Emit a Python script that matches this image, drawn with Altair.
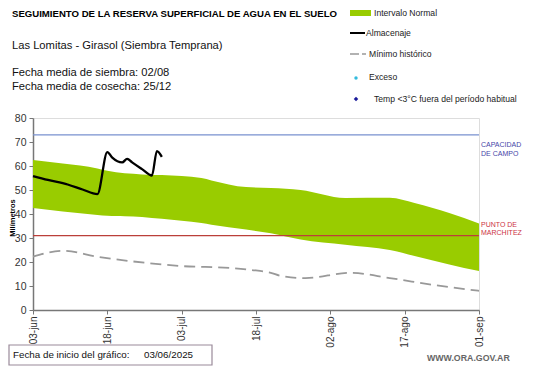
import altair as alt
import pandas as pd

# ---- data ----
band_dates = ["2025-06-03", "2025-06-09", "2025-06-16", "2025-06-18", "2025-06-25", "2025-06-29",
              "2025-07-07", "2025-07-09", "2025-07-16", "2025-07-21", "2025-07-27", "2025-08-05",
              "2025-08-14", "2025-08-19", "2025-08-26", "2025-09-01"]
band_upper = [62.5, 61.0, 59.0, 58.0, 56.5, 56.2, 55.0, 54.0, 51.2, 50.8, 50.0, 46.7, 46.8, 44.6, 40.4, 36.0]
band_lower = [42.5, 41.0, 39.6, 39.3, 38.8, 38.0, 36.2, 35.5, 33.5, 32.0, 29.4, 27.2, 25.0, 22.5, 19.0, 16.2]

alm_dates = ["2025-06-03", "2025-06-06", "2025-06-10", "2025-06-13", "2025-06-16", "2025-06-18",
             "2025-06-19", "2025-06-21", "2025-06-22", "2025-06-23", "2025-06-25", "2025-06-27",
             "2025-06-28", "2025-06-29"]
alm_values = [55.8, 54.2, 52.3, 50.2, 48.3, 65.8, 63.5, 61.5, 63.0, 61.5, 58.7, 56.0, 66.2, 63.8]

min_dates = ["2025-06-03", "2025-06-09", "2025-06-16", "2025-06-26", "2025-07-03", "2025-07-13",
             "2025-07-17", "2025-07-21", "2025-07-23", "2025-07-28", "2025-08-06", "2025-08-14",
             "2025-08-23", "2025-09-01"]
min_values = [22.2, 24.7, 22.2, 19.6, 18.3, 17.5, 16.7, 15.5, 14.2, 13.3, 15.5, 13.3, 10.4, 8.0]

capacidad_campo = 73.0
punto_marchitez = 31.0

tick_dates = ["2025-06-03", "2025-06-18", "2025-07-03", "2025-07-18", "2025-08-02", "2025-08-17", "2025-09-01"]
y_ticks = [0, 10, 20, 30, 40, 50, 60, 70, 80]

FONT = "Liberation Sans"
W, H = 446, 192

band_df = pd.DataFrame({"fecha": band_dates, "sup": band_upper, "inf": band_lower})
alm_df = pd.DataFrame({"fecha": alm_dates, "v": alm_values})
min_df = pd.DataFrame({"fecha": min_dates, "v": min_values})
ref_df = pd.DataFrame({"v": [capacidad_campo, punto_marchitez], "k": ["cc", "pm"]})
one = pd.DataFrame({"a": [0]})

def dt(s):
    y, m, d = s.split("-")
    return alt.DateTime(year=int(y), month=int(m), date=int(d), utc=True)

xscale = alt.Scale(type="utc", domain=[dt("2025-06-03"), dt("2025-09-01")], nice=False)
yscale = alt.Scale(domain=[0, 80], nice=False)

month_expr = "['ene','feb','mar','abr','may','jun','jul','ago','sep','oct','nov','dic'][utcmonth(datum.value)]"
xaxis = alt.Axis(values=[dt(s) for s in tick_dates], labelExpr="utcFormat(datum.value, '%d') + '-' + " + month_expr,
                 labelAngle=270, labelFontSize=10, labelFont=FONT, labelColor="#333333", labelPadding=2,
                 labelOverlap=False, tickSize=4, tickColor="#777777", domainColor="#777777", domainWidth=1.5,
                 title=None, grid=False)
yaxis = alt.Axis(values=y_ticks, tickCount=9, labelFontSize=10.5, labelFont=FONT,
                 labelColor="#333333", labelPadding=3, labelOverlap=False, tickSize=4, tickColor="#777777",
                 domainColor="#777777", domainWidth=1.5, title=None, grid=False)

X = lambda f: alt.X(f, scale=xscale, axis=xaxis)
Y = lambda f: alt.Y(f, scale=yscale, axis=yaxis)

band = alt.Chart(band_df).mark_area(color="#99cc00", interpolate="monotone").encode(
    x=X("fecha:T"), y=Y("sup:Q"), y2="inf:Q")

refs = alt.Chart(ref_df).mark_rule(strokeWidth=1.2).encode(
    y=Y("v:Q"),
    x=alt.value(0), x2=alt.value(W),
    color=alt.Color("k:N", scale=alt.Scale(domain=["cc", "pm"], range=["#7891cf", "#bb3f3a"]), legend=None),
)

minimo = alt.Chart(min_df).mark_line(color="#999999", strokeWidth=1.8, strokeDash=[11, 6], interpolate="monotone").encode(
    x=X("fecha:T"), y=Y("v:Q"))

alm = alt.Chart(alm_df).mark_line(color="#000000", strokeWidth=2.3, interpolate="monotone").encode(
    x=X("fecha:T"), y=Y("v:Q"))


def txt(t, x, y, size=10, color="#000000", weight="normal", align="left", angle=0, font=FONT):
    return alt.Chart(one).mark_text(align=align, baseline="middle", fontSize=size, color=color,
                                    fontWeight=weight, angle=angle, font=font).encode(
        x=alt.value(x), y=alt.value(y), text=alt.value(t))


def seg(x1, x2, y, color, width):
    return alt.Chart(one).mark_rule(color=color, strokeWidth=width).encode(
        x=alt.value(x1), x2=alt.value(x2), y=alt.value(y))


layers = [band, refs, minimo, alm]

# titles
layers += [
    txt("SEGUIMIENTO DE LA RESERVA  SUPERFICIAL DE AGUA EN EL SUELO", -21, -104, size=9.6, weight="bold"),
    txt("Las Lomitas - Girasol (Siembra Temprana)", -21, -72, size=11.2, color="#111111"),
    txt("Fecha media de siembra: 02/08", -21, -45, size=11.2, color="#111111"),
    txt("Fecha media de cosecha: 25/12", -21, -31, size=11.2, color="#111111"),
    txt("Milímetros", -20, 100, size=7.5, weight="bold", align="center", angle=270),
]

# legend
layers += [
    alt.Chart(one).mark_rect(color="#99cc00").encode(x=alt.value(317), x2=alt.value(338), y=alt.value(-108), y2=alt.value(-102)),
    txt("Intervalo Normal", 341, -105, size=8.6, color="#222222"),
    seg(317, 332, -85, "#000000", 2),
    txt("Almacenaje", 333, -85, size=8.6, color="#222222"),
    seg(317, 326, -64, "#999999", 1.5),
    seg(329, 333, -64, "#999999", 1.5),
    txt("Mínimo histórico", 336, -64, size=8.6, color="#222222"),
    alt.Chart(one).mark_point(shape="circle", filled=True, size=12, color="#33bbdd", opacity=1).encode(x=alt.value(323), y=alt.value(-40)),
    txt("Exceso", 336, -41, size=8.6, color="#222222"),
    alt.Chart(one).mark_point(shape="diamond", filled=True, size=20, color="#1a1a9a", opacity=1).encode(x=alt.value(323), y=alt.value(-19)),
    txt("Temp <3°C fuera del período habitual", 341, -19, size=8.6, color="#222222"),
]

# reference annotations
layers += [
    txt("CAPACIDAD", 448, 27, size=7, color="#4646a8"),
    txt("DE  CAMPO", 448, 36, size=7, color="#4646a8"),
    txt("PUNTO  DE", 448, 107, size=7, color="#cc3344"),
    txt("MARCHITEZ", 448, 115, size=7, color="#cc3344"),
]

# footer
layers += [
    alt.Chart(one).mark_rect(fill="white", stroke="#9a8a9a", strokeWidth=1.2).encode(
        x=alt.value(-24), x2=alt.value(179), y=alt.value(227), y2=alt.value(247)),
    txt("Fecha de inicio del gráfico:", -20, 237, size=9.8, color="#111111"),
    txt("03/06/2025", 111, 237, size=9.8, color="#111111"),
    txt("WWW.ORA.GOV.AR", 394, 240, size=8.8, color="#666666", weight="bold"),
]

chart = alt.layer(*layers).properties(
    width=W, height=H,
    autosize=alt.AutoSizeParams(type="none"),
    padding={"left": 25, "top": 110, "right": 54, "bottom": 58},
).configure_view(stroke=None).configure(background="white")

chart.save("out.html", embed_options={"renderer": "svg", "actions": False})
